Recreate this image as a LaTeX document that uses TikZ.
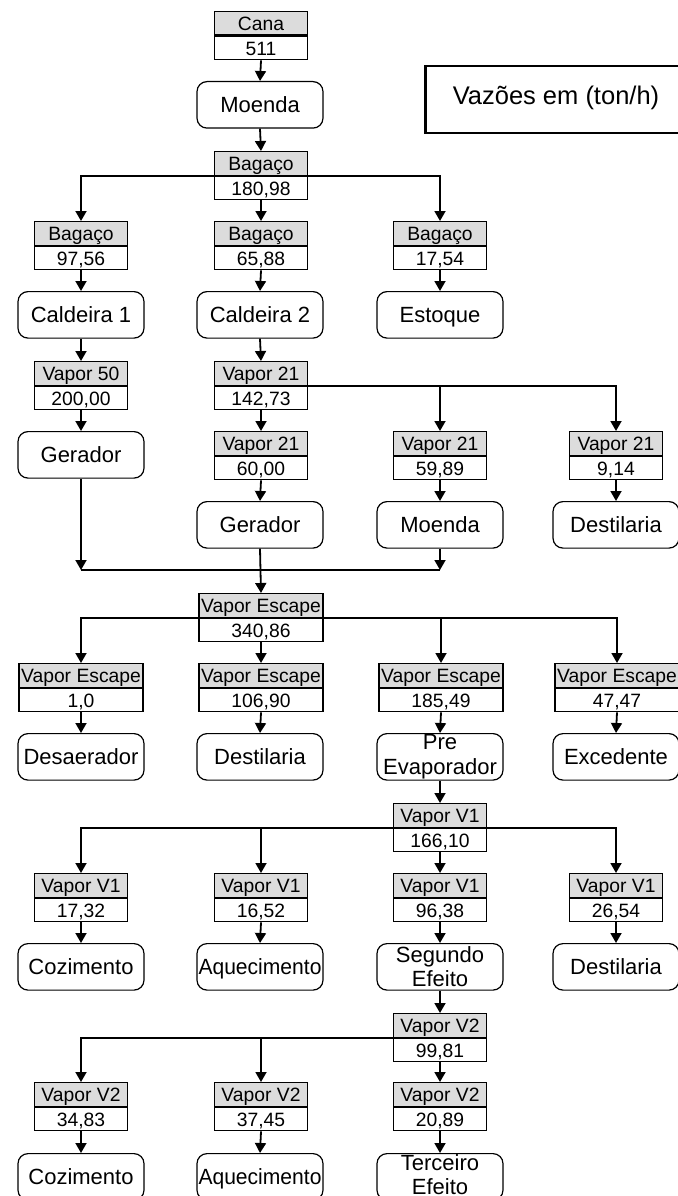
\documentclass[tikz,border=0pt]{standalone}
\usepackage{fontspec}
\usepackage{graphicx}
\setmainfont{Liberation Sans}
\usetikzlibrary{arrows.meta}
\definecolor{boxgray}{RGB}{220,220,220}
\newcommand\flowbox[6]{%
  \node[hdr, minimum width=#4, anchor=north] (#1-h) at (#2,#3) {#5};
  \node[val, minimum width=#4, anchor=north] (#1-v) at (#1-h.south) {#6};
}
\newcommand\aquec{\resizebox{123pt}{\height}{Aquecimento}}
\begin{document}
\begin{tikzpicture}[x=1pt,y=-1pt,
  boxline/.style={draw=black, line width=1.2pt},
  hdr/.style={boxline, fill=boxgray, minimum height=23.5pt, inner sep=0pt,
    text height=14.5pt, text depth=0pt, font=\fontsize{19.3}{20}\selectfont},
  val/.style={boxline, fill=white, minimum height=23.5pt, inner sep=0pt,
    text height=14.5pt, text depth=0pt, font=\fontsize{19.3}{20}\selectfont},
  proc/.style={boxline, fill=white, rounded corners=10pt, minimum width=126pt,
    minimum height=46.5pt, inner sep=0pt, align=center, anchor=north,
    font=\fontsize{22}{25.7}\selectfont},
  proctwo/.style={proc, font=\fontsize{22}{24}\selectfont},
  procone/.style={proc, text height=15.8pt, text depth=0pt},
  arr/.style={line width=1.8pt, -{Triangle[length=10pt,width=11pt]}},
  ln/.style={line width=1.8pt}]
\useasboundingbox (0,0) rectangle (677,1196);

% legend
\node[draw=black, line width=2.5pt, minimum width=256pt, minimum height=67pt,
  anchor=north west, inner sep=0pt] (leg) at (424,65) {};
\node[font=\fontsize{25.5}{27}\selectfont] (legt) at (556,98) {Vazões em (ton/h)};

% top
\flowbox{cana}{261}{11}{93pt}{Cana}{511}
\node[procone] (moe1) at (260,81) {Moenda};
\flowbox{bag0}{261}{151}{93pt}{Bagaço}{180,98}
\flowbox{bagA}{81}{221}{93pt}{Bagaço}{97,56}
\flowbox{bagB}{261}{221}{93pt}{Bagaço}{65,88}
\flowbox{bagC}{440}{221}{93pt}{Bagaço}{17,54}
\node[procone] (cal1) at (81,291) {Caldeira 1};
\node[procone] (cal2) at (260,291) {Caldeira 2};
\node[procone] (est) at (440,291) {Estoque};
\flowbox{v50}{81}{361}{93pt}{Vapor 50}{200,00}
\flowbox{v21}{261}{361}{93pt}{Vapor 21}{142,73}
\node[procone] (gerA) at (81,431) {Gerador};
\flowbox{v21B}{261}{431}{93pt}{Vapor 21}{60,00}
\flowbox{v21C}{440}{431}{93pt}{Vapor 21}{59,89}
\flowbox{v21D}{616}{431}{93pt}{Vapor 21}{9,14}
\node[procone] (gerB) at (260,501) {Gerador};
\node[procone] (moeC) at (440,501) {Moenda};
\node[procone] (destD) at (616,501) {Destilaria};
\coordinate (mrg) at (261,570);

% escape
\flowbox{esc}{261}{593}{124pt}{Vapor Escape}{340,86}
\flowbox{escA}{81}{663}{124pt}{Vapor Escape}{1,0}
\flowbox{escB}{261}{663}{124pt}{Vapor Escape}{106,90}
\flowbox{escC}{441}{663}{124pt}{Vapor Escape}{185,49}
\flowbox{escD}{617}{663}{124pt}{Vapor Escape}{47,47}
\node[procone] (desa) at (81,733) {Desaerador};
\node[procone] (dest2) at (260,733) {Destilaria};
\node[proc] (pre) at (440,733) {Pre\\Evaporador};
\node[procone] (exc) at (616,733) {Excedente};

% V1
\flowbox{v1}{440}{803}{93pt}{Vapor V1}{166,10}
\flowbox{v1A}{81}{873}{93pt}{Vapor V1}{17,32}
\flowbox{v1B}{261}{873}{93pt}{Vapor V1}{16,52}
\flowbox{v1C}{440}{873}{93pt}{Vapor V1}{96,38}
\flowbox{v1D}{616}{873}{93pt}{Vapor V1}{26,54}
\node[procone] (coz1) at (81,943) {Cozimento};
\node[procone] (aq1) at (260,943) {\aquec};
\node[proctwo] (seg) at (440,943) {Segundo\\Efeito};
\node[procone] (dest3) at (616,943) {Destilaria};

% V2
\flowbox{v2}{440}{1013}{93pt}{Vapor V2}{99,81}
\flowbox{v2A}{81}{1082}{93pt}{Vapor V2}{34,83}
\flowbox{v2B}{261}{1082}{93pt}{Vapor V2}{37,45}
\flowbox{v2C}{440}{1082}{93pt}{Vapor V2}{20,89}
\node[procone] (coz2) at (81,1153) {Cozimento};
\node[procone] (aq2) at (260,1153) {\aquec};
\node[proctwo] (ter) at (440,1153) {Terceiro\\Efeito\vphantom{g}};

% connectors
\draw[arr] (cana-v.south) -- (moe1.north);
\draw[arr] (moe1.south) -- (bag0-h.north);
\draw[arr] (bag0-h.south west) -| (bagA-h.north);
\draw[arr] (bag0-h.south east) -| (bagC-h.north);
\draw[arr] (bag0-v.south) -- (bagB-h.north);
\draw[arr] (bagA-v.south) -- (cal1.north);
\draw[arr] (bagB-v.south) -- (cal2.north);
\draw[arr] (bagC-v.south) -- (est.north);
\draw[arr] (cal1.south) -- (v50-h.north);
\draw[arr] (v50-v.south) -- (gerA.north);
\draw[arr] (cal2.south) -- (v21-h.north);
\draw[arr] (v21-v.south) -- (v21B-h.north);
\draw[arr] (v21-h.south east) -| (v21C-h.north);
\draw[arr] (v21-h.south east) -| (v21D-h.north);
\draw[arr] (v21B-v.south) -- (gerB.north);
\draw[arr] (v21C-v.south) -- (moeC.north);
\draw[arr] (v21D-v.south) -- (destD.north);
\draw[arr] (gerA.south) -- (gerA.south |- mrg);
\draw[arr] (moeC.south) -- (moeC.south |- mrg);
\draw[ln] (gerA.south |- mrg) -- (moeC.south |- mrg);
\draw[arr] (gerB.south) -- (esc-h.north);
\draw[arr] (esc-h.south west) -| (escA-h.north);
\draw[arr] (esc-h.south east) -| (escC-h.north);
\draw[arr] (esc-h.south east) -| (escD-h.north);
\draw[arr] (esc-v.south) -- (escB-h.north);
\draw[arr] (escA-v.south) -- (desa.north);
\draw[arr] (escB-v.south) -- (dest2.north);
\draw[arr] (escC-v.south) -- (pre.north);
\draw[arr] (escD-v.south) -- (exc.north);
\draw[arr] (pre.south) -- (v1-h.north);
\draw[arr] (v1-h.south west) -| (v1A-h.north);
\draw[arr] (v1-h.south west) -| (v1B-h.north);
\draw[arr] (v1-h.south east) -| (v1D-h.north);
\draw[arr] (v1-v.south) -- (v1C-h.north);
\draw[arr] (v1A-v.south) -- (coz1.north);
\draw[arr] (v1B-v.south) -- (aq1.north);
\draw[arr] (v1C-v.south) -- (seg.north);
\draw[arr] (v1D-v.south) -- (dest3.north);
\draw[arr] (seg.south) -- (v2-h.north);
\draw[arr] (v2-h.south west) -| (v2A-h.north);
\draw[arr] (v2-h.south west) -| (v2B-h.north);
\draw[arr] (v2-v.south) -- (v2C-h.north);
\draw[arr] (v2A-v.south) -- (coz2.north);
\draw[arr] (v2B-v.south) -- (aq2.north);
\draw[arr] (v2C-v.south) -- (ter.north);
\end{tikzpicture}
\end{document}
